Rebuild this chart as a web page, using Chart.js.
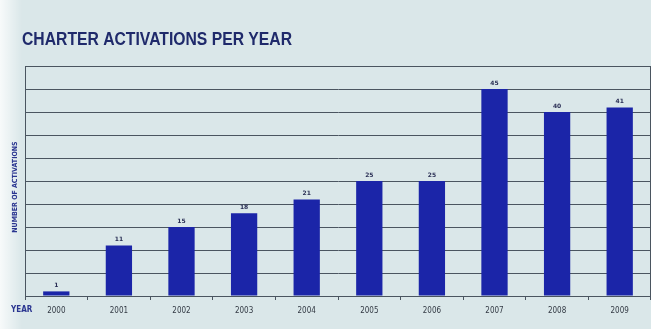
<!DOCTYPE html>
<html>
<head>
<meta charset="utf-8">
<script src="https://cdn.jsdelivr.net/npm/chart.js@4"></script>
<style>
  html, body { margin: 0; padding: 0; background: #dbe7ea; }
  #wrap { width: 651px; height: 329px; }
</style>
</head>
<body>
<div id="wrap"><canvas id="myChart" width="651" height="329"></canvas></div>
<script>
// data
const years = ['2000', '2001', '2002', '2003', '2004', '2005', '2006', '2007', '2008', '2009'];
const activations = [1, 11, 15, 18, 21, 25, 25, 45, 40, 41];
const yMax = 50;
const yStep = 5;

// background, title, labels drawn around the chart
const decor = {
    id: 'decor',
    beforeDraw(chart) {
        const c = chart.ctx;
        c.save();
        c.fillStyle = '#dae7e9';
        c.fillRect(0, 0, chart.width, chart.height);
        // whiter scan edge on the left
        const g = c.createLinearGradient(0, 0, 22, 0);
        g.addColorStop(0, 'rgba(255,255,255,0.8)');
        g.addColorStop(1, 'rgba(255,255,255,0)');
        c.fillStyle = g;
        c.fillRect(0, 0, 22, chart.height);
        c.restore();
    },
    afterDraw(chart) {
        const c = chart.ctx;
        const area = chart.chartArea;
        c.save();
        // title, squeezed to the width of the printed one
        const title = 'CHARTER ACTIVATIONS PER YEAR';
        c.fillStyle = '#1f2a6b';
        c.font = 'bold 18px "Liberation Sans", sans-serif';
        c.textBaseline = 'alphabetic';
        c.textAlign = 'left';
        const w = c.measureText(title).width;
        c.translate(22, 45);
        c.scale(270 / w, 1);
        c.fillText(title, 0, 0);
        c.setTransform(1, 0, 0, 1, 0, 0);

        // plot border
        c.strokeStyle = '#4a5560';
        c.lineWidth = 1;
        c.strokeRect(area.left + 0.5, area.top + 0.5, area.right - area.left - 1, area.bottom - area.top);

        // y title
        c.fillStyle = '#2a3590';
        c.font = 'bold 7px "DejaVu Sans Condensed", sans-serif';
        c.translate(15, 187);
        c.rotate(-Math.PI / 2);
        c.textAlign = 'center';
        c.textBaseline = 'middle';
        c.fillText('NUMBER OF ACTIVATIONS', 0, 0);
        c.setTransform(1, 0, 0, 1, 0, 0);

        // year label
        c.font = 'bold 8px "DejaVu Sans Condensed", sans-serif';
        c.textAlign = 'left';
        c.fillText('YEAR', 11, 310);

        // value labels
        const meta = chart.getDatasetMeta(0);
        c.fillStyle = '#2a2f55';
        c.font = 'bold 6px "DejaVu Sans", sans-serif';
        c.textAlign = 'center';
        c.textBaseline = 'bottom';
        meta.data.forEach((bar, i) => {
            c.fillText(activations[i], bar.x, bar.y - 3);
        });
        c.restore();
    }
};

function barColor(context) {
    const chart = context.chart;
    const bar = chart.getDatasetMeta(0).data[context.dataIndex];
    if (!bar || !bar.width || isNaN(bar.x)) return '#1b25a8';
    const g = chart.ctx.createLinearGradient(bar.x - bar.width / 2, 0, bar.x + bar.width / 2, 0);
    g.addColorStop(0, '#141b92');
    g.addColorStop(0.6, '#1d2aaf');
    g.addColorStop(1, '#2c44cf');
    return g;
}

var ctx = document.getElementById('myChart').getContext('2d');
var chart = new Chart(ctx, {
    type: 'bar',
    data: {
        labels: years,
        datasets: [{
            label: 'Activations',
            data: activations,
            backgroundColor: barColor,
            borderWidth: 0,
            barPercentage: 0.42,
            categoryPercentage: 1
        }]
    },
    options: {
        responsive: false,
        animation: false,
        layout: { padding: { left: 25, right: 0, top: 66, bottom: 0 } },
        plugins: {
            legend: { display: false },
            tooltip: { enabled: false }
        },
        scales: {
            x: {
                offset: true,
                grid: {
                    display: true,
                    offset: true,
                    drawOnChartArea: false,
                    drawTicks: true,
                    tickLength: 4,
                    color: '#4a5560'
                },
                border: { display: true, color: '#4a5560' },
                ticks: {
                    color: '#333a44',
                    font: { size: 8, family: '"DejaVu Sans Condensed", sans-serif' },
                    padding: 6,
                    maxRotation: 0
                },
                afterFit(scale) { scale.height = 33; }
            },
            y: {
                min: 0,
                max: yMax,
                ticks: { display: false, stepSize: yStep },
                grid: { color: '#4a5560', lineWidth: 1, drawTicks: false },
                border: { display: true, color: '#4a5560' },
                afterFit(scale) { scale.width = 0; }
            }
        }
    },
    plugins: [decor]
});
</script>
</body>
</html>
